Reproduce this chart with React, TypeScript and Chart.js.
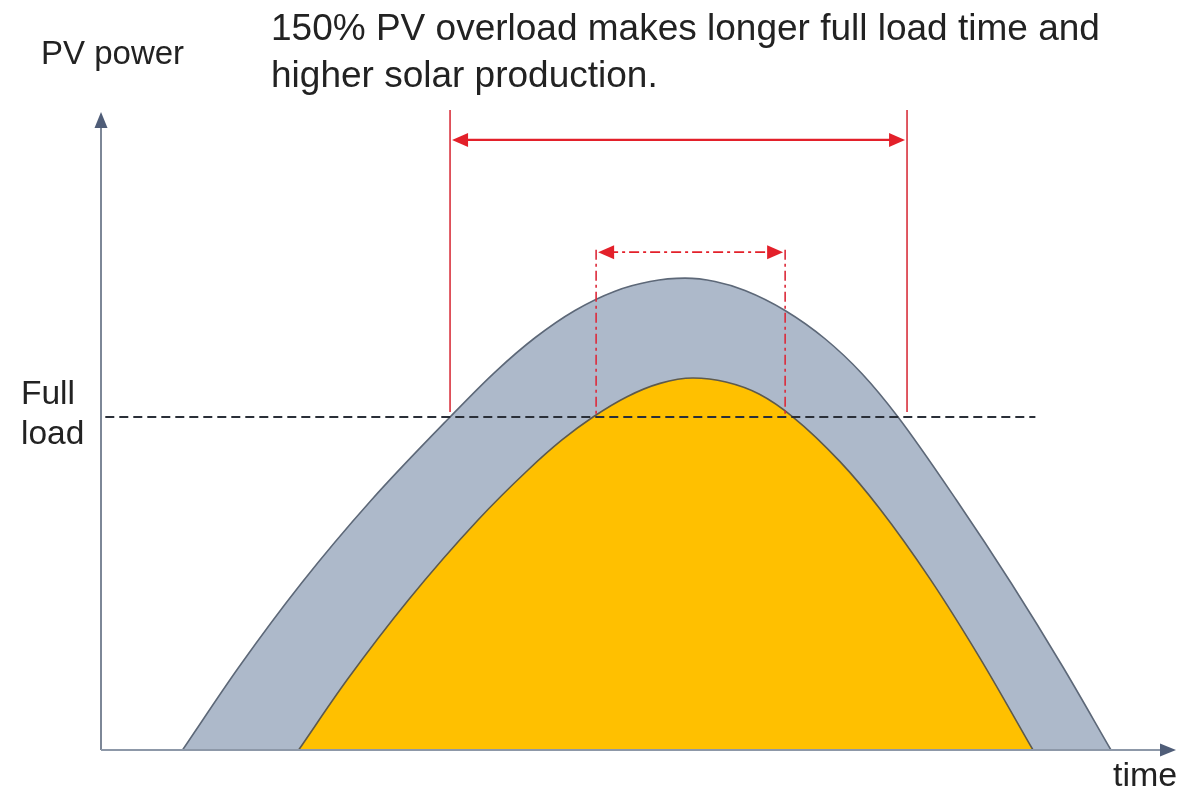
import React, { useEffect, useRef } from "react";
import { Chart, registerables } from "chart.js";

Chart.register(...registerables);

// Time axis: arbitrary units 0..100, power axis: % of full load
const xRange = [0, 100];
const yRange = [0, 195.2];
const fullLoadLevel = 100;

// Outer curve: 150% PV overload (gray)
const overloadTime = [7.59, 12.86, 18.64, 25.16, 32.5, 36.69, 40.41, 44.13, 47.86, 51.12, 54.38, 57.17, 59.96, 63.69, 67.41, 70.86, 74.21, 79.66, 84.77, 89.55, 94.04];
const overloadPower = [0, 25.0, 50.0, 75.0, 100, 113.5, 123.8, 132.0, 137.8, 140.7, 141.7, 140.7, 138.0, 132.0, 123.5, 113.0, 100, 75.0, 50.0, 25.0, 0];

// Inner curve: rated PV (yellow)
const ratedTime = [18.4, 22.9, 28.62, 35.1, 39.76, 42.92, 45.81, 48.98, 52.05, 55.12, 58.19, 61.27, 64.43, 68.81, 72.53, 77.19, 81.84, 86.78];
const ratedPower = [0, 21.0, 45.05, 69.07, 84.09, 93.1, 100, 106.1, 110.1, 111.7, 110.5, 106.9, 100, 86.6, 72.4, 51.4, 27.6, 0];

// Full-load dashed line extent
const fullLoadTime = [0.4, 87.0];

// Full-load time spans (markers)
const overloadSpan = [32.5, 75.05];
const overloadMarker = { top: 192.2, bottom: 101.5, arrow: 183.2 };
const ratedSpan = [46.1, 63.7];
const ratedMarker = { top: 150.2, bottom: 100, arrow: 149.5 };

function arrowHead(ctx: CanvasRenderingContext2D, tx: number, ty: number, dx: number, dy: number, len: number, half: number, color: string) {
  const bx = tx - dx * len;
  const by = ty - dy * len;
  const px = -dy;
  const py = dx;
  ctx.save();
  ctx.fillStyle = color;
  ctx.beginPath();
  ctx.moveTo(tx, ty);
  ctx.lineTo(bx + px * half, by + py * half);
  ctx.lineTo(bx - px * half, by - py * half);
  ctx.closePath();
  ctx.fill();
  ctx.restore();
}

const overlayPlugin = {
  id: "overlay",
  afterDatasetsDraw(chart: any) {
    const { ctx, scales } = chart;
    const xs = scales.x;
    const ys = scales.y;
    const x0 = xs.getPixelForValue(xRange[0]);
    const y0 = ys.getPixelForValue(yRange[0]);

    // axes
    ctx.save();
    ctx.strokeStyle = "#7d8797";
    ctx.lineWidth = 2;
    ctx.beginPath();
    ctx.moveTo(x0, y0);
    ctx.lineTo(x0, 126);
    ctx.stroke();
    ctx.strokeStyle = "#8d98a8";
    ctx.beginPath();
    ctx.moveTo(x0, y0);
    ctx.lineTo(1162, y0);
    ctx.stroke();
    ctx.restore();
    arrowHead(ctx, x0, 112, 0, -1, 16, 6.5, "#4f5d78");
    arrowHead(ctx, 1176, y0, 1, 0, 16, 6.5, "#4f5d78");

    // wide (overload) span: solid
    const red = "#e3202a";
    ctx.save();
    ctx.strokeStyle = "#d8303c";
    ctx.lineWidth = 1.6;
    for (const t of overloadSpan) {
      const px = xs.getPixelForValue(t);
      ctx.beginPath();
      ctx.moveTo(px, ys.getPixelForValue(overloadMarker.top));
      ctx.lineTo(px, ys.getPixelForValue(overloadMarker.bottom));
      ctx.stroke();
    }
    const ay = ys.getPixelForValue(overloadMarker.arrow);
    const axl = xs.getPixelForValue(overloadSpan[0]) + 2;
    const axr = xs.getPixelForValue(overloadSpan[1]) - 2;
    ctx.strokeStyle = red;
    ctx.lineWidth = 2.2;
    ctx.beginPath();
    ctx.moveTo(axl + 10, ay);
    ctx.lineTo(axr - 10, ay);
    ctx.stroke();
    ctx.restore();
    arrowHead(ctx, axl, ay, -1, 0, 16, 7, red);
    arrowHead(ctx, axr, ay, 1, 0, 16, 7, red);

    // narrow (rated) span: dash-dot
    ctx.save();
    ctx.strokeStyle = "#dc2a3a";
    ctx.lineWidth = 1.6;
    ctx.setLineDash([10, 4, 3, 4]);
    for (const t of ratedSpan) {
      const px = xs.getPixelForValue(t);
      ctx.beginPath();
      ctx.moveTo(px, ys.getPixelForValue(ratedMarker.top));
      ctx.lineTo(px, ys.getPixelForValue(ratedMarker.bottom));
      ctx.stroke();
    }
    const by = ys.getPixelForValue(ratedMarker.arrow);
    const bxl = xs.getPixelForValue(ratedSpan[0]) + 2;
    const bxr = xs.getPixelForValue(ratedSpan[1]) - 2;
    ctx.strokeStyle = red;
    ctx.lineWidth = 1.8;
    ctx.beginPath();
    ctx.moveTo(bxl + 10, by);
    ctx.lineTo(bxr - 10, by);
    ctx.stroke();
    ctx.restore();
    arrowHead(ctx, bxl, by, -1, 0, 16, 7, red);
    arrowHead(ctx, bxr, by, 1, 0, 16, 7, red);
  },
};

export default function App() {
  const canvasRef = useRef<HTMLCanvasElement | null>(null);

  useEffect(() => {
    if (!canvasRef.current) return;
    const toPts = (xs: number[], ys: number[]) => xs.map((x, i) => ({ x, y: ys[i] }));
    const chart = new Chart(canvasRef.current, {
      type: "line",
      data: {
        datasets: [
          {
            label: "Full load",
            data: fullLoadTime.map((x) => ({ x, y: fullLoadLevel })),
            borderColor: "#2a2f38",
            borderWidth: 2,
            borderDash: [9, 5],
            pointRadius: 0,
            fill: false,
          },
          {
            label: "Rated PV",
            data: toPts(ratedTime, ratedPower),
            borderColor: "#5e5a4c",
            borderWidth: 1.6,
            backgroundColor: "#ffc000",
            pointRadius: 0,
            fill: "origin",
            cubicInterpolationMode: "monotone",
          },
          {
            label: "150% PV overload",
            data: toPts(overloadTime, overloadPower),
            borderColor: "#5d6878",
            borderWidth: 1.6,
            backgroundColor: "#adb9ca",
            pointRadius: 0,
            fill: "origin",
            cubicInterpolationMode: "monotone",
          },
        ],
      },
      options: {
        animation: false,
        responsive: false,
        devicePixelRatio: 1,
        layout: { padding: { left: 101, right: 26, top: 100, bottom: 44 } },
        plugins: { legend: { display: false }, tooltip: { enabled: false }, title: { display: false } },
        scales: {
          x: { type: "linear", min: xRange[0], max: xRange[1], display: false },
          y: { type: "linear", min: yRange[0], max: yRange[1], display: false },
        },
      },
      plugins: [overlayPlugin],
    });
    return () => chart.destroy();
  }, []);

  const font = "'Liberation Sans', Arial, sans-serif";
  const txt: React.CSSProperties = { position: "absolute", fontFamily: font, color: "#222222", lineHeight: 1, whiteSpace: "nowrap" };

  return (
    <div style={{ position: "fixed", left: 0, top: 0, width: 1201, height: 794, background: "#ffffff", overflow: "hidden" }}>
      <canvas ref={canvasRef} width={1201} height={794} style={{ position: "absolute", left: 0, top: 0 }} />
      <div style={{ ...txt, left: 41, top: 36, fontSize: 33 }}>PV power</div>
      <div style={{ ...txt, left: 271, top: 4, fontSize: 37, lineHeight: "47px" }}>
        150% PV overload makes longer full load time and
        <br />
        higher solar production.
      </div>
      <div style={{ ...txt, left: 21, top: 373, fontSize: 33.5, lineHeight: "40px" }}>
        Full
        <br />
        load
      </div>
      <div style={{ ...txt, left: 1113, top: 757, fontSize: 34 }}>time</div>
    </div>
  );
}
